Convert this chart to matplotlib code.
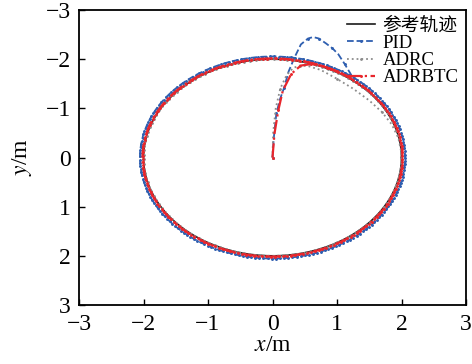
import numpy as np
import matplotlib
matplotlib.use("Agg")
import matplotlib.pyplot as plt

plt.rcParams['font.family'] = ['Liberation Serif', 'Noto Sans CJK SC']
plt.rcParams['mathtext.fontset'] = 'stix'

labels = ['参考轨迹', 'PID', 'ADRC', 'ADRBTC']
colors = ['#1a1a1a', '#2f5fb0', '#8c8c8c', '#e8262c']

# radii of steady circular tracking
ref_radius = 2.0
pid_radius = 2.055
adrc_radius = 2.0
adrbtc_radius = 2.015

# transient waypoints (x, y)
pid_x = [0.0, 0.02, 0.06, 0.12, 0.18, 0.25, 0.34, 0.44, 0.55, 0.63, 0.72, 0.83, 0.93, 1.02, 1.12, 1.22]
pid_y = [0.0, -0.4, -0.9, -1.2, -1.42, -1.75, -2.03, -2.3, -2.42, -2.45, -2.42, -2.32, -2.22, -2.1, -1.9, -1.68]

adrc_x = [0.0, 0.01, 0.05, 0.12, 0.22, 0.32, 0.42, 0.55, 0.75, 1.0, 1.25, 1.5, 1.7, 1.85, 1.95, 1.99]
adrc_y = [0.0, -0.5, -1.0, -1.4, -1.68, -1.82, -1.87, -1.86, -1.78, -1.6, -1.4, -1.16, -0.92, -0.67, -0.4, -0.15]

adrbtc_x = [0.0, 0.03, 0.09, 0.16, 0.29, 0.44, 0.6, 0.8, 1.0, 1.15]
adrbtc_y = [0.0, -0.48, -0.96, -1.36, -1.7, -1.87, -1.9, -1.85, -1.75, -1.66]

xticks = [-3, -2, -1, 0, 1, 2, 3]
yticks = [-3, -2, -1, 0, 1, 2, 3]


def circle_from(x0, y0, r, n=400):
    a0 = np.arctan2(y0, x0)
    th = np.linspace(a0, a0 + 2 * np.pi, n)
    return r * np.cos(th), r * np.sin(th)


fig = plt.figure(figsize=(4.72, 3.64), dpi=100)
ax = fig.add_axes([79 / 472, 1 - 305 / 364, (466 - 79) / 472, (305 - 10) / 364])

th = np.linspace(0, 2 * np.pi, 400)
ax.plot(ref_radius * np.cos(th), ref_radius * np.sin(th), '-', color=colors[0], lw=1.2,
        label=labels[0])

cx, cy = circle_from(pid_x[-1], pid_y[-1], pid_radius)
px = np.concatenate([pid_x, cx]); py = np.concatenate([pid_y, cy])
ax.plot(px, py, '--', color=colors[1], lw=1.3, marker='.', ms=2.2, markevery=2, label=labels[1])

cx, cy = circle_from(adrc_x[-1], adrc_y[-1], adrc_radius)
gx = np.concatenate([adrc_x, cx]); gy = np.concatenate([adrc_y, cy])
ax.plot(gx, gy, ':', color=colors[2], lw=1.3, marker='.', ms=2, markevery=3, label=labels[2])

cx, cy = circle_from(adrbtc_x[-1], adrbtc_y[-1], adrbtc_radius)
rx = np.concatenate([adrbtc_x, cx]); ry = np.concatenate([adrbtc_y, cy])
ax.plot(rx, ry, '-.', color=colors[3], lw=1.6, marker='.', ms=2.2, markevery=2, label=labels[3])

ax.set_xlim(-3, 3)
ax.set_ylim(3, -3)
ax.set_xticks(xticks)
ax.set_yticks(yticks)
ax.set_xticklabels(['\u2212%d' % abs(v) if v < 0 else str(v) for v in xticks])
ax.set_yticklabels(['\u2212%d' % abs(v) if v < 0 else str(v) for v in yticks])
ax.tick_params(direction='in', length=4, width=1.0, labelsize=17, top=False, right=False)
ax.tick_params(axis='x', pad=6.5)
ax.tick_params(axis='y', pad=6)
for s in ax.spines.values():
    s.set_linewidth(1.3)

ax.set_xlabel('$x$/m', fontsize=17, labelpad=0)
ax.set_ylabel('$y$/m', fontsize=17, labelpad=8)

leg = ax.legend(loc='upper right', frameon=False, fontsize=13.5, numpoints=1,
                handlelength=1.5, handletextpad=0.4, labelspacing=0.0,
                borderaxespad=0.3, borderpad=0.1)

fig.savefig('out.png', dpi=100)
